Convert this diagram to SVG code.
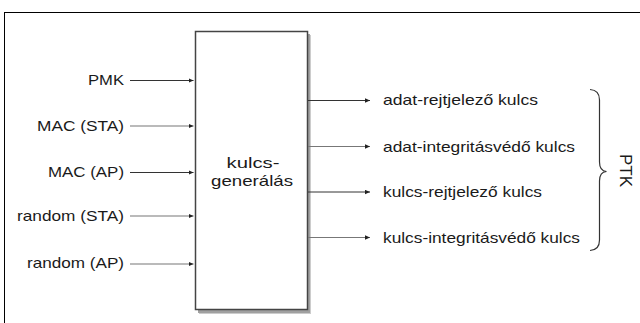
<svg xmlns="http://www.w3.org/2000/svg" width="640" height="323" viewBox="0 0 640 323">
<style>
text { font-family: "Liberation Sans", Arial, sans-serif; font-size: 15px; fill: #1a1a1a; }
.in { text-anchor: end; }
.c { stroke: #333; stroke-width: 1; fill: none; }
.cl { stroke: #777; stroke-width: 1.2; fill: none; }
</style>
<defs>
<marker id="ah" markerUnits="userSpaceOnUse" markerWidth="6" markerHeight="6" refX="5" refY="2.5" orient="auto">
<path d="M0,0.3 L5,2.5 L0,4.7 z" fill="#222"/>
</marker>
</defs>
<rect x="0" y="0" width="640" height="323" fill="#fff"/>
<rect x="4.5" y="12.5" width="700" height="400" fill="none" stroke="#000" stroke-width="1"/>

<g id="box">
<rect x="199" y="35" width="112" height="279" fill="#ccc"/>
<rect x="198" y="34" width="112" height="279" fill="#a0a0a0"/>
<rect x="195.5" y="31.5" width="112" height="278" fill="#fff" stroke="#444" stroke-width="1.5"/>
<text x="253" y="168" text-anchor="middle" textLength="53" lengthAdjust="spacingAndGlyphs">kulcs-</text>
<text x="252" y="186" text-anchor="middle" textLength="82" lengthAdjust="spacingAndGlyphs">generálás</text>
</g>

<g id="in-pmk"><text class="in" x="124" y="84.5" textLength="36" lengthAdjust="spacingAndGlyphs">PMK</text></g>
<g id="in-macsta"><text class="in" x="124" y="130.5" textLength="87" lengthAdjust="spacingAndGlyphs">MAC (STA)</text></g>
<g id="in-macap"><text class="in" x="124" y="176.5" textLength="76" lengthAdjust="spacingAndGlyphs">MAC (AP)</text></g>
<g id="in-randsta"><text class="in" x="124" y="220.5" textLength="107" lengthAdjust="spacingAndGlyphs">random (STA)</text></g>
<g id="in-randap"><text class="in" x="124" y="268" textLength="97" lengthAdjust="spacingAndGlyphs">random (AP)</text></g>

<g id="out-1"><text x="383" y="105" textLength="155" lengthAdjust="spacingAndGlyphs">adat-rejtjelező kulcs</text></g>
<g id="out-2"><text x="383" y="151.5" textLength="192" lengthAdjust="spacingAndGlyphs">adat-integritásvédő kulcs</text></g>
<g id="out-3"><text x="383" y="197" textLength="159" lengthAdjust="spacingAndGlyphs">kulcs-rejtjelező kulcs</text></g>
<g id="out-4"><text x="383" y="242.5" textLength="197" lengthAdjust="spacingAndGlyphs">kulcs-integritásvédő kulcs</text></g>

<g id="ptk">
<path d="M590,89.5 Q599.5,90 599.5,100 L599.5,162 Q599.5,171 606.5,171.5 Q599.5,172 599.5,181 L599.5,240 Q599.5,250 590,250.5" fill="none" stroke="#333" stroke-width="1.2"/>
<text transform="translate(620,154) rotate(90)" x="0" y="0" textLength="33" lengthAdjust="spacingAndGlyphs" style="font-size:16px">PTK</text>
</g>

<g id="connectors">
<line class="c" x1="130" y1="80.5" x2="193.5" y2="80.5" marker-end="url(#ah)"/>
<line class="cl" x1="130" y1="126" x2="193.5" y2="126" marker-end="url(#ah)"/>
<line class="c" x1="130" y1="172.5" x2="193.5" y2="172.5" marker-end="url(#ah)"/>
<line class="cl" x1="130" y1="216" x2="193.5" y2="216" marker-end="url(#ah)"/>
<line class="cl" x1="130" y1="264" x2="193.5" y2="264" marker-end="url(#ah)"/>
<line class="c" x1="308" y1="100.5" x2="370" y2="100.5" marker-end="url(#ah)"/>
<line class="cl" x1="308" y1="146.5" x2="370" y2="146.5" marker-end="url(#ah)"/>
<line class="c" x1="308" y1="192" x2="370" y2="192" marker-end="url(#ah)"/>
<line class="cl" x1="308" y1="237.5" x2="370" y2="237.5" marker-end="url(#ah)"/>
</g>
</svg>
